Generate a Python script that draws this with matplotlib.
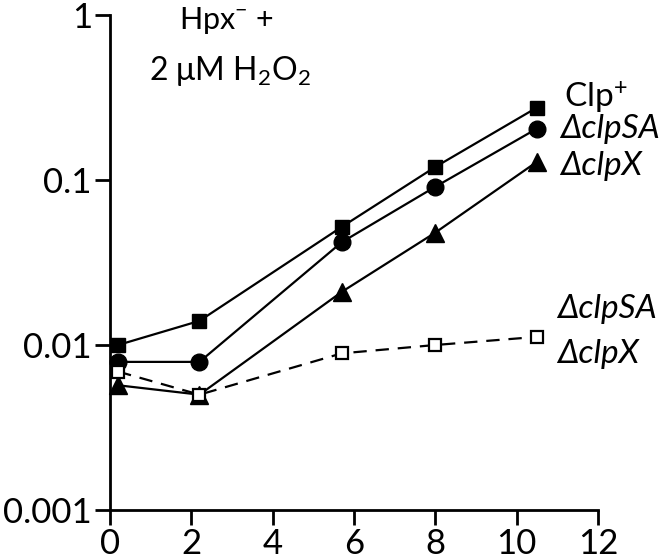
import numpy as np
import matplotlib.pyplot as plt

plt.rcParams.update({
    'font.family': ['Lato', 'DejaVu Sans'],
    'mathtext.fontset': 'custom',
    'mathtext.rm': 'Lato',
    'mathtext.it': 'Lato:italic',
    'axes.linewidth': 2,
})

# Data (time, fraction)
time_pts = [0.2, 2.2, 5.7, 8.0, 10.5]
clp_plus = [0.010, 0.014, 0.052, 0.12, 0.275]
clp_sa = [0.0079, 0.0079, 0.042, 0.091, 0.205]
clp_x = [0.0057, 0.0050, 0.021, 0.048, 0.129]
clp_sa_x = [0.0069, 0.0050, 0.0089, 0.0100, 0.0112]

x_ticks = [0, 2, 4, 6, 8, 10, 12]
y_ticks = [0.001, 0.01, 0.1, 1]
y_tick_labels = ['0.001', '0.01', '0.1', '1']

fig = plt.figure(figsize=(6.66, 5.59), dpi=100)
ax = fig.add_axes([110 / 666, 1 - 510 / 559, 488 / 666, 495 / 559])

lw = 1.6
ax.plot(time_pts, clp_plus, '-s', color='black', lw=lw, ms=10, clip_on=False, zorder=3)
ax.plot(time_pts, clp_sa, '-o', color='black', lw=lw, ms=12, clip_on=False, zorder=3)
ax.plot(time_pts, clp_x, '-^', color='black', lw=lw, ms=13, clip_on=False, zorder=3)
ax.plot(time_pts, clp_sa_x, '--s', color='black', lw=lw, ms=9, mfc='white',
        mew=1.6, dashes=(6, 4), clip_on=False, zorder=4)

ax.set_yscale('log')
ax.set_xlim(0, 12)
ax.set_ylim(0.001, 1)
ax.set_xticks(x_ticks)
ax.set_xticklabels([str(t) for t in x_ticks])
ax.set_yticks(y_ticks)
ax.set_yticklabels(y_tick_labels)
ax.minorticks_off()
ax.tick_params(axis='both', direction='out', length=11, width=2, labelsize=25, pad=2)

for side in ['top', 'right']:
    ax.spines[side].set_visible(False)

# annotations
ax.text(0.238, 0.972, 'Hpx$^{-}$ +', transform=ax.transAxes, ha='center',
        va='baseline', fontsize=22)
ax.text(0.246, 0.869, '2 μM H$_2$O$_2$', transform=ax.transAxes, ha='center',
        va='baseline', fontsize=23)

lab = dict(transform=ax.transAxes, va='baseline', fontsize=24)
ax.text(0.930, 0.814, 'Clp$^{+}$', **lab)
ax.text(0.922, 0.752, 'ΔclpSA', style='italic', **lab)
ax.text(0.922, 0.677, 'ΔclpX', style='italic', **lab)
ax.text(0.916, 0.388, 'ΔclpSA', style='italic', **lab)
ax.text(0.916, 0.297, 'ΔclpX', style='italic', **lab)

fig.savefig('out.png', dpi=100)
